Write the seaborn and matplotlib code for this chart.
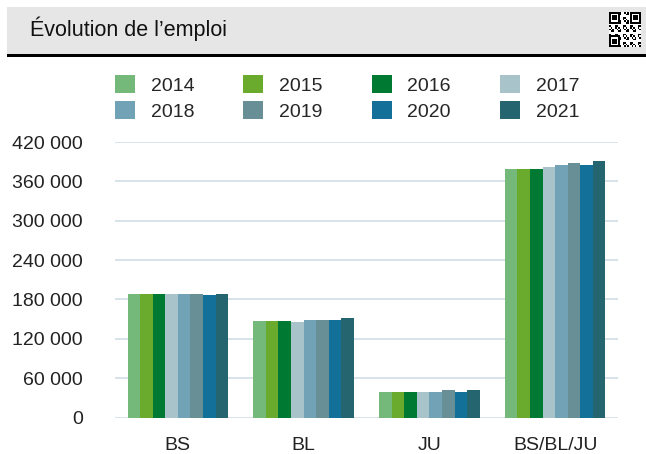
import numpy as np
import pandas as pd
import matplotlib
matplotlib.use('Agg')
import matplotlib.pyplot as plt
from matplotlib.patches import Rectangle
from matplotlib.ticker import FuncFormatter
import seaborn as sns

regions = ['BS', 'BL', 'JU', 'BS/BL/JU']
years = ['2014', '2015', '2016', '2017', '2018', '2019', '2020', '2021']
emploi_bs = [189000, 189000, 189000, 189000, 189000, 189000, 186000, 189000]
emploi_bl = [146500, 146500, 146500, 146000, 149000, 149000, 149000, 152000]
emploi_ju = [39500, 39500, 39500, 39500, 39500, 42000, 39500, 42000]
emploi_total = [378500, 378500, 378500, 381500, 385000, 387500, 384500, 390500]
year_colors = ['#75b97a', '#6aaa2d', '#007a33', '#a9c3ca', '#72a2b5', '#688f96', '#137199', '#246570']

rows = []
for reg, vals in zip(regions, [emploi_bs, emploi_bl, emploi_ju, emploi_total]):
    for yr, v in zip(years, vals):
        rows.append({'Region': reg, 'Annee': yr, 'Emploi': v})
df = pd.DataFrame(rows)

sns.set_style('white')
plt.rcParams['font.family'] = ['Liberation Sans', 'DejaVu Sans']

W, H = 646, 454
fig = plt.figure(figsize=(W / 100, H / 100), dpi=100)
ax = fig.add_axes([115 / W, 1 - 417.5 / H, 503 / W, 275.5 / H])

sns.barplot(data=df, x='Region', y='Emploi', hue='Annee', order=regions, hue_order=years,
            palette=year_colors, saturation=1, width=0.8, linewidth=0, ax=ax)

ax.set_ylim(0, 420000)
ax.set_xlim(-0.5, 3.5)
ax.set_yticks(np.arange(0, 420001, 60000))
ax.yaxis.set_major_formatter(FuncFormatter(lambda v, p: f'{int(v):,}'.replace(',', ' ')))
ax.grid(axis='y', color='#cfdde5', linewidth=1.2)
ax.set_axisbelow(True)
for s in ax.spines.values():
    s.set_visible(False)
ax.tick_params(axis='y', length=0, pad=23, labelsize=14, labelcolor='#222222')
ax.tick_params(axis='x', length=0, pad=14, labelsize=14, labelcolor='#222222')
ax.set_xlabel('')
ax.set_ylabel('')

# legend, filled row by row
handles, labels = ax.get_legend_handles_labels()
ax.get_legend().remove()
idx = [0, 4, 1, 5, 2, 6, 3, 7]
fig.legend([handles[i] for i in idx], [labels[i] for i in idx], ncol=4,
           loc='upper left', bbox_to_anchor=(115 / W, 1 - 75 / H), frameon=False,
           fontsize=14, handlelength=1.03, handleheight=1.03, handletextpad=0.8,
           columnspacing=2.53, labelspacing=0.35, borderpad=0, borderaxespad=0)

# header
fig.add_artist(Rectangle((7 / W, 1 - 54 / H), 1 - 7 / W, 47 / H, transform=fig.transFigure,
                         facecolor='#e6e6e6', edgecolor='none', zorder=0))
fig.add_artist(Rectangle((7 / W, 1 - 56.5 / H), 1 - 7 / W, 2.2 / H, transform=fig.transFigure,
                         facecolor='black', edgecolor='none', zorder=1))
fig.text(30 / W, 1 - 29 / H, 'Évolution de l’emploi', fontsize=15.5, color='#111111',
         ha='left', va='center')

# small qr-like badge
n = 21
qr = np.zeros((n, n))
for i in range(n):
    for j in range(n):
        qr[i, j] = 1 if (i * 7 + j * 13 + i * j) % 5 < 2 else 0
for (r0, c0) in [(0, 0), (0, n - 7), (n - 7, 0)]:
    qr[r0:r0 + 7, c0:c0 + 7] = 1
    qr[r0 + 1:r0 + 6, c0 + 1:c0 + 6] = 0
    qr[r0 + 2:r0 + 5, c0 + 2:c0 + 5] = 1
qax = fig.add_axes([609 / W, 1 - 47 / H, 32 / W, 35 / H])
qax.imshow(qr, cmap='gray_r', interpolation='nearest', aspect='auto')
qax.axis('off')

fig.savefig('out.png', dpi=100)
